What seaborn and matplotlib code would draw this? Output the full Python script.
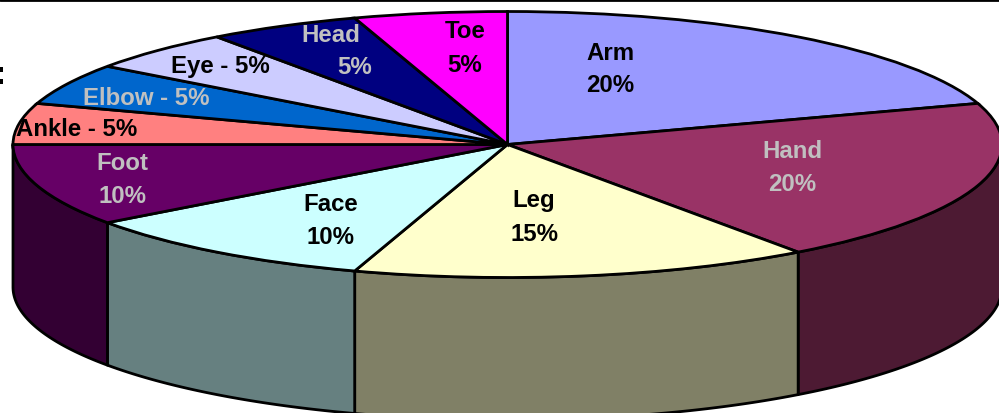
import numpy as np
import matplotlib
matplotlib.use("Agg")
import matplotlib.pyplot as plt
import seaborn as sns

# datos de la torta
partes = ["Arm", "Hand", "Leg", "Face", "Foot", "Ankle", "Elbow", "Eye", "Head", "Toe"]
porcentajes = [20, 20, 15, 10, 10, 5, 5, 5, 5, 5]
colores = ["#9999FF", "#993366", "#FFFFCC", "#CCFFFF", "#660066",
           "#FF8080", "#0066CC", "#CCCCFF", "#000080", "#FF00FF"]

sns.set_theme(style="white")
plt.rcParams["font.family"] = ["Liberation Sans", "DejaVu Sans"]

ANCHO, ALTO = 999, 414
CX, CY = 507.5, 145.5  # centro de la elipse en pixeles
RX, RY = 494.5, 133
PROF = 142.5           # altura del costado
ESCALA = RY / RX
GROSOR = 2.0


def py(y_pixel):
    return (ALTO - y_pixel) / ESCALA


fig = plt.figure(figsize=(ANCHO / 100, ALTO / 100), dpi=100)
ax = fig.add_axes([0, 0, 1, 1])
paleta = sns.color_palette(colores)

# costados visibles (mitad delantera), desde los porcentajes acumulados
acum = np.cumsum([0] + porcentajes)
angulos = 90 - acum * 3.6
for i in range(len(porcentajes)):
    ini = max(angulos[i + 1], -180)
    fin = min(angulos[i], 0)
    if ini >= fin:
        continue
    t = np.radians(np.linspace(fin, ini, 80))
    x = CX + RX * np.cos(t)
    y_sup = py(CY) + RX * np.sin(t)
    y_inf = y_sup - PROF / ESCALA
    oscuro = tuple(c * 0.5 for c in paleta[i])
    ax.fill(np.r_[x, x[::-1]], np.r_[y_sup, y_inf[::-1]], facecolor=oscuro,
            edgecolor="black", linewidth=GROSOR, joinstyle="round")

# cara superior
ax.pie(porcentajes, colors=paleta, startangle=90, counterclock=False,
       center=(CX, py(CY)), radius=RX,
       wedgeprops={"edgecolor": "black", "linewidth": GROSOR})
ax.set_aspect("auto")
ax.set_xlim(0, ANCHO)
ax.set_ylim(0, ALTO / ESCALA)

# etiquetas: (indice, texto de cada linea con su posicion y color)
NEGRO, PLATA = "black", "#C0C0C0"
etiquetas = [
    (0, [("{p}", 610, 53), ("{v}%", 610, 85)], NEGRO),
    (1, [("{p}", 792, 152), ("{v}%", 792, 185)], PLATA),
    (2, [("{p}", 534, 201), ("{v}%", 534, 235)], NEGRO),
    (3, [("{p}", 331, 205), ("{v}%", 331, 238)], NEGRO),
    (4, [("{p}", 122, 164), ("{v}%", 122, 197)], PLATA),
    (5, [("{p} - {v}%", 77, 130)], NEGRO),
    (6, [("{p} - {v}%", 146, 99)], PLATA),
    (7, [("{p} - {v}%", 220, 66)], NEGRO),
    (8, [("{p}", 331, 35), ("{v}%", 355, 68)], PLATA),
    (9, [("{p}", 465, 32), ("{v}%", 465, 65)], NEGRO),
]
for i, lineas, color in etiquetas:
    for plantilla, x, y in lineas:
        fig.text(x / ANCHO, 1 - y / ALTO, plantilla.format(p=partes[i], v=porcentajes[i]),
                 ha="center", va="center", color=color, fontsize=17.3, fontweight="bold")

# resto del titulo recortado y linea superior
fig.text(0, 1 - 76 / ALTO, ":", ha="center", va="center", color="black",
         fontsize=24, fontweight="bold")
ax.axhline(py(0.5), color="black", linewidth=2)

fig.savefig("out.png", dpi=100, facecolor="white")
